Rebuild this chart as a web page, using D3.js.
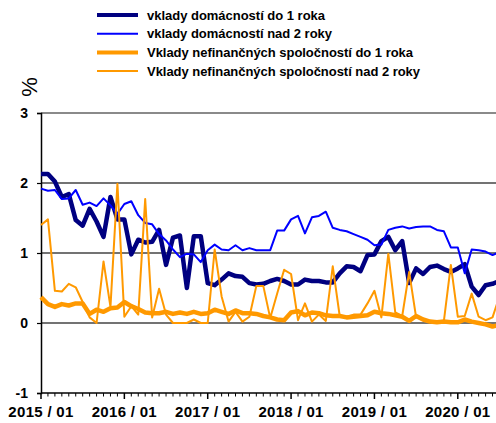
<!DOCTYPE html>
<html>
<head>
<meta charset="utf-8">
<script src="https://cdn.jsdelivr.net/npm/d3@7"></script>
<style>
  body { margin: 0; background: #fff; }
  text { font-family: "Liberation Sans", Arial, sans-serif; font-weight: bold; fill: #000; }
</style>
</head>
<body>
<div class="chart"></div>
<script>
const w = 496;
const h = 423;

// months 2015/01 .. 2020/07
const startYear = 2015;
const months = d3.range(67).map(i => (startYear + Math.floor(i / 12)) + " / " + String(i % 12 + 1).padStart(2, "0"));
const yearLabels = ["2015 / 01", "2016 / 01", "2017 / 01", "2018 / 01", "2019 / 01", "2020 / 01"];
const yTicks = [-1, 0, 1, 2, 3];

const seriesNames = [
    "vklady domácností do 1 roka",
    "vklady domácností nad 2 roky",
    "Vklady nefinančných spoločností do 1 roka",
    "Vklady nefinančných spoločností nad 2 roky"
];

const hhShort = [2.13, 2.13, 2.02, 1.80, 1.84, 1.47, 1.39, 1.63, 1.45, 1.23, 1.80, 1.48,
    1.48, 0.98, 1.19, 1.15, 1.16, 1.33, 0.83, 1.22, 1.25, 0.50, 1.24, 1.24,
    0.57, 0.54, 0.62, 0.71, 0.67, 0.66, 0.57, 0.55, 0.56, 0.60, 0.63, 0.60,
    0.55, 0.55, 0.62, 0.60, 0.60, 0.58, 0.58, 0.71, 0.81, 0.80, 0.74, 0.97,
    0.98, 1.17, 1.23, 1.04, 1.17, 0.57, 0.78, 0.70, 0.80, 0.82, 0.77, 0.73,
    0.78, 0.84, 0.52, 0.40, 0.54, 0.56, 0.60];

const hhLong = [1.92, 1.89, 1.90, 1.77, 1.78, 1.90, 1.69, 1.72, 1.67, 1.78, 1.68, 1.56,
    1.70, 1.74, 1.54, 1.43, 1.41, 1.27, 1.18, 1.05, 0.94, 0.99, 0.98, 0.87,
    1.04, 1.12, 1.05, 1.04, 1.11, 1.04, 1.07, 1.04, 1.04, 1.04, 1.32, 1.32,
    1.48, 1.53, 1.28, 1.51, 1.53, 1.59, 1.36, 1.33, 1.31, 1.27, 1.23, 1.19,
    1.11, 1.12, 1.33, 1.36, 1.38, 1.35, 1.37, 1.38, 1.38, 1.33, 1.31, 1.08,
    1.08, 0.71, 1.05, 1.04, 1.02, 0.97, 1.01];

const nfcShort = [0.37, 0.27, 0.23, 0.27, 0.25, 0.28, 0.28, 0.13, 0.19, 0.16, 0.21, 0.22,
    0.30, 0.24, 0.20, 0.15, 0.14, 0.14, 0.16, 0.13, 0.15, 0.13, 0.16, 0.13,
    0.14, 0.19, 0.16, 0.13, 0.18, 0.14, 0.14, 0.13, 0.10, 0.08, 0.05, 0.04,
    0.15, 0.17, 0.11, 0.15, 0.14, 0.11, 0.10, 0.10, 0.08, 0.09, 0.10, 0.11,
    0.16, 0.14, 0.13, 0.11, 0.09, 0.03, 0.10, 0.05, 0.02, 0.01, 0.02, 0.01,
    0.01, 0.05, 0.02, 0.00, -0.02, -0.05, -0.03];

const nfcLong = [1.40, 1.48, 0.46, 0.45, 0.56, 0.51, 0.30, 0.08, 0.00, 0.88, 0.23, 1.99,
    0.09, 0.24, 0.12, 1.77, 0.08, 0.49, 0.12, 0.00, 0.00, 0.00, 0.05, 0.00,
    0.00, 1.05, 0.38, 0.02, 0.16, 0.02, 0.09, 0.53, 0.53, 0.07, 0.42, 0.76,
    0.70, 0.04, 0.28, 0.02, 0.12, 0.03, 0.81, 0.10, 0.09, 0.12, 0.12, 0.28,
    0.46, 0.08, 0.99, 0.15, 0.10, 0.73, 0.08, 0.05, 0.03, 0.02, 0.03, 0.83,
    0.09, 0.10, 0.42, 0.09, 0.04, 0.08, 0.38];

const styles = [
    { color: "#000080", width: 4.5, legendWidth: 4, textWidth: 178 },
    { color: "#0000ff", width: 2, legendWidth: 2, textWidth: 185 },
    { color: "#ff9900", width: 4.5, legendWidth: 4, textWidth: 266 },
    { color: "#ff9900", width: 2, legendWidth: 2, textWidth: 273 }
];
const allSeries = [hhShort, hhLong, nfcShort, nfcLong];

const svg = d3.select(".chart")
    .append("svg")
    .attr("width", w)
    .attr("height", h);

const left = 41;
const x = d3.scaleLinear().domain([0, 65.5]).range([left, w]);
const y = d3.scaleLinear().domain([-1, 3]).range([393, 113]);

// gridlines
svg.append("g")
    .selectAll("line")
    .data(yTicks.filter(d => d > -1))
    .enter()
    .append("line")
    .attr("x1", left)
    .attr("x2", w)
    .attr("y1", d => y(d))
    .attr("y2", d => y(d))
    .attr("stroke", d => d === 3 ? "#8a8a8a" : "#444")
    .attr("stroke-width", d => d === 3 ? 2 : 1.5);

// y axis
const yAxis = svg.append("g")
    .attr("transform", `translate(${left},0)`)
    .call(d3.axisLeft(y).tickValues(yTicks).tickSize(4).tickFormat(d => String(d)));
yAxis.select(".domain").attr("stroke", "#000").attr("stroke-width", 1.5);
yAxis.selectAll(".tick line").attr("stroke", "#000").attr("stroke-width", 1.2);
yAxis.selectAll("text")
    .attr("x", -13)
    .style("font-size", "14px")
    .style("font-family", "Liberation Sans, Arial, sans-serif")
    .style("font-weight", "bold");

// x axis: minor monthly ticks, major yearly
const xAxis = svg.append("g").attr("transform", `translate(0,${y(-1)})`);
xAxis.append("line")
    .attr("x1", left).attr("x2", w)
    .attr("stroke", "#000").attr("stroke-width", 1.5);
xAxis.selectAll(".mt")
    .data(months)
    .enter()
    .append("line")
    .attr("x1", (d, i) => x(i))
    .attr("x2", (d, i) => x(i))
    .attr("y1", 0)
    .attr("y2", (d, i) => i % 12 === 0 ? 6 : 3.5)
    .attr("stroke", "#000")
    .attr("stroke-width", (d, i) => i % 12 === 0 ? 1.5 : 1);
xAxis.selectAll(".yl")
    .data(yearLabels)
    .enter()
    .append("text")
    .attr("x", d => x(months.indexOf(d)))
    .attr("y", 24)
    .attr("text-anchor", "middle")
    .style("font-size", "15px")
    .style("letter-spacing", "0.3px")
    .text(d => d);

// lines
const line = d3.line()
    .x((d, i) => x(i))
    .y(d => y(d));

svg.append("g")
    .selectAll("path")
    .data(allSeries)
    .enter()
    .append("path")
    .attr("d", line)
    .attr("fill", "none")
    .attr("stroke", (d, i) => styles[i].color)
    .attr("stroke-width", (d, i) => styles[i].width)
    .attr("stroke-linejoin", "round");

// % label
svg.append("text")
    .attr("transform", "translate(37,87) rotate(-90)")
    .attr("text-anchor", "middle")
    .style("font-size", "22px")
    .style("font-weight", "normal")
    .text("%");

// legend
const legend = svg.append("g")
    .selectAll("g")
    .data(seriesNames)
    .enter()
    .append("g")
    .attr("transform", (d, i) => `translate(0,${15 + i * 18.7})`);

legend.append("line")
    .attr("x1", 97)
    .attr("x2", 138)
    .attr("stroke", (d, i) => styles[i].color)
    .attr("stroke-width", (d, i) => styles[i].legendWidth);

legend.append("text")
    .attr("x", 147)
    .attr("y", 4.5)
    .attr("textLength", (d, i) => styles[i].textWidth)
    .attr("lengthAdjust", "spacing")
    .style("font-size", "13px")
    .text(d => d);
</script>
</body>
</html>
